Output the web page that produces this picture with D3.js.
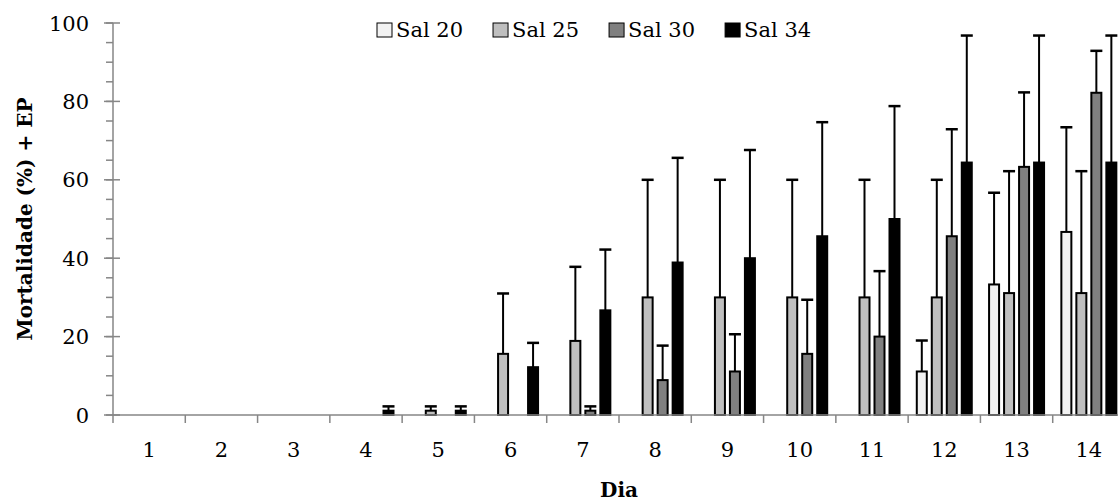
<!DOCTYPE html>
<head>
  <meta charset="utf-8">
  <script src="https://d3js.org/d3.v7.min.js"></script>
  <style>
    body { margin: 0; background: #fff; }
    text { font-family: 'DejaVu Serif', serif; font-size: 21px; fill: #000; }
    .title { font-weight: bold; font-size: 20px; }
  </style>
</head>
<body>
  <div id="my_dataviz"></div>
  <script>
    // chart values
    var days = [1, 2, 3, 4, 5, 6, 7, 8, 9, 10, 11, 12, 13, 14];
    var series = ["Sal 20", "Sal 25", "Sal 30", "Sal 34"];
    var colors = ["#f2f2f2", "#bfbfbf", "#808080", "#000000"];

    var sal20    = [0, 0, 0, 0, 0, 0, 0, 0, 0, 0, 0, 11.1, 33.3, 46.7];
    var sal20Err = [0, 0, 0, 0, 0, 0, 0, 0, 0, 0, 0, 7.9, 23.4, 26.7];
    var sal25    = [0, 0, 0, 0, 1.1, 15.6, 18.9, 30, 30, 30, 30, 30, 31.1, 31.1];
    var sal25Err = [0, 0, 0, 0, 1.1, 15.4, 18.9, 30, 30, 30, 30, 30, 31.1, 31.1];
    var sal30    = [0, 0, 0, 0, 0, 0, 1.1, 8.9, 11.1, 15.6, 20, 45.6, 63.3, 82.2];
    var sal30Err = [0, 0, 0, 0, 0, 0, 1.1, 8.8, 9.5, 13.8, 16.7, 27.3, 19, 10.7];
    var sal34    = [0, 0, 0, 1.1, 1.1, 12.2, 26.7, 38.9, 40, 45.6, 50, 64.4, 64.4, 64.4];
    var sal34Err = [0, 0, 0, 1.1, 1.1, 6.2, 15.5, 26.7, 27.6, 29.1, 28.8, 32.4, 32.4, 32.4];

    var yTicks = [0, 20, 40, 60, 80, 100];
    var yMinor = d3.range(0, 101, 5);

    var values = [sal20, sal25, sal30, sal34];
    var errors = [sal20Err, sal25Err, sal30Err, sal34Err];

    var data = [];
    days.forEach(function (d, i) {
      series.forEach(function (s, j) {
        data.push({day: d, key: s, idx: j, value: values[j][i], err: errors[j][i]});
      });
    });

    var width = 1118, height = 502;
    var plotLeft = 113, plotRight = 1125, plotTop = 23, plotBottom = 415;
    var axisColor = "#868686";

    var svg = d3.select("#my_dataviz")
      .append("svg")
      .attr("width", width)
      .attr("height", height);

    var x0 = d3.scaleBand()
      .domain(days)
      .range([plotLeft, plotRight]);

    var x1 = d3.scaleBand()
      .domain(series)
      .range([0, x0.bandwidth()])
      .paddingInner(0.2)
      .paddingOuter(0.51);

    var y = d3.scaleLinear()
      .domain([0, 100])
      .range([plotBottom, plotTop]);

    // y axis
    var yAxis = svg.append("g");
    yAxis.append("line")
      .attr("x1", plotLeft).attr("x2", plotLeft)
      .attr("y1", y(100)).attr("y2", plotBottom + 8)
      .attr("stroke", axisColor).attr("stroke-width", 1.5);

    yAxis.selectAll(".minor")
      .data(yMinor)
      .enter()
      .append("line")
      .attr("x1", plotLeft - 7).attr("x2", plotLeft)
      .attr("y1", d => y(d)).attr("y2", d => y(d))
      .attr("stroke", axisColor).attr("stroke-width", 1.5);

    yAxis.selectAll(".major")
      .data(yTicks)
      .enter()
      .append("line")
      .attr("x1", plotLeft - 9).attr("x2", plotLeft + 7)
      .attr("y1", d => y(d)).attr("y2", d => y(d))
      .attr("stroke", axisColor).attr("stroke-width", 1.5);

    yAxis.selectAll("text")
      .data(yTicks)
      .enter()
      .append("text")
      .attr("x", 89)
      .attr("y", d => y(d))
      .attr("dy", "0.36em")
      .attr("text-anchor", "end")
      .text(d => d);

    // bars with upper error bars
    var groups = svg.append("g")
      .selectAll("g")
      .data(data.filter(d => d.value > 0))
      .enter()
      .append("g")
      .attr("transform", d => "translate(" + (x0(d.day) + x1(d.key)) + ",0)");

    groups.filter(d => d.err > 0)
      .append("line")
      .attr("x1", x1.bandwidth() / 2).attr("x2", x1.bandwidth() / 2)
      .attr("y1", d => y(d.value)).attr("y2", d => y(d.value + d.err))
      .attr("stroke", "#000").attr("stroke-width", 2);

    groups.filter(d => d.err > 0)
      .append("line")
      .attr("x1", x1.bandwidth() / 2 - 6).attr("x2", x1.bandwidth() / 2 + 6)
      .attr("y1", d => y(d.value + d.err)).attr("y2", d => y(d.value + d.err))
      .attr("stroke", "#000").attr("stroke-width", 2.5);

    groups.append("rect")
      .attr("x", 1)
      .attr("width", x1.bandwidth() - 2)
      .attr("y", d => y(d.value))
      .attr("height", d => plotBottom - y(d.value))
      .attr("fill", d => colors[d.idx])
      .attr("stroke", "#000")
      .attr("stroke-width", 2);

    // x axis
    var xAxis = svg.append("g");
    xAxis.append("line")
      .attr("x1", plotLeft).attr("x2", width)
      .attr("y1", plotBottom).attr("y2", plotBottom)
      .attr("stroke", axisColor).attr("stroke-width", 1.5);

    xAxis.selectAll(".tick")
      .data(days)
      .enter()
      .append("line")
      .attr("x1", d => x0(d) + x0.bandwidth()).attr("x2", d => x0(d) + x0.bandwidth())
      .attr("y1", plotBottom).attr("y2", plotBottom + 8)
      .attr("stroke", axisColor).attr("stroke-width", 1.5);

    xAxis.selectAll("text")
      .data(days)
      .enter()
      .append("text")
      .attr("x", d => x0(d) + x0.bandwidth() / 2)
      .attr("y", 457)
      .attr("text-anchor", "middle")
      .text(d => d);

    // titles
    svg.append("text")
      .attr("class", "title")
      .attr("x", (plotLeft + plotRight) / 2)
      .attr("y", 497)
      .attr("text-anchor", "middle")
      .text("Dia");

    svg.append("text")
      .attr("class", "title")
      .attr("transform", "translate(32," + ((plotTop + plotBottom) / 2) + ") rotate(-90)")
      .attr("text-anchor", "middle")
      .text("Mortalidade (%) + EP");

    // legend
    var legend = svg.append("g");
    var lx = 377;
    series.forEach(function (s, i) {
      legend.append("rect")
        .attr("x", lx).attr("y", 23)
        .attr("width", 15).attr("height", 14)
        .attr("fill", colors[i])
        .attr("stroke", "#000").attr("stroke-width", 1);
      var t = legend.append("text")
        .attr("x", lx + 19).attr("y", 37)
        .text(s);
      lx += 19 + t.node().getComputedTextLength() + 30;
    });
  </script>
</body>
